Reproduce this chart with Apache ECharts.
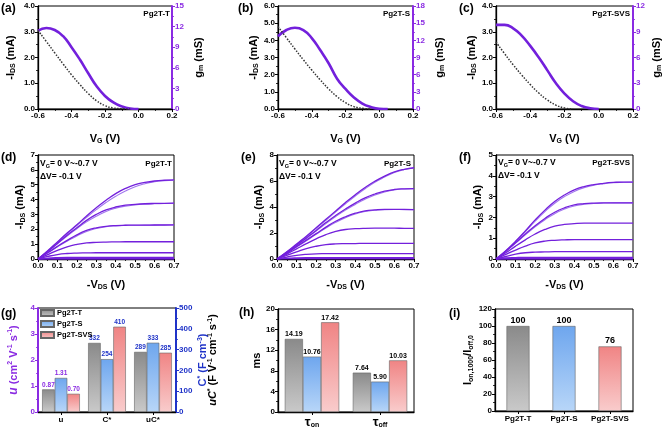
<!DOCTYPE html>
<html><head><meta charset="utf-8">
<script src="https://cdn.jsdelivr.net/npm/echarts@6/dist/echarts.min.js"></script>
<style>html,body{margin:0;padding:0;background:#fff}#c{width:663px;height:427px}</style>
</head><body><div id="c"></div>
<script>
// ---------------- data ----------------
// (a)-(c) transfer curves: -I_DS (mA) and g_m (mS) vs V_G (V)
const vgIdA = [-0.6,-0.55,-0.5,-0.45,-0.4,-0.35,-0.3,-0.25,-0.2,-0.15,-0.1,-0.05];
const idA   = [3.05,2.62,2.18,1.75,1.33,0.95,0.6,0.32,0.13,0.04,0.01,0];
const vgGmA = [-0.6,-0.55,-0.5,-0.45,-0.4,-0.35,-0.3,-0.25,-0.2,-0.15,-0.1,-0.05,0];
const gmA   = [11.4,11.8,11.5,10.6,9.0,7.2,5.2,3.3,1.9,0.95,0.38,0.08,0];

const vgIdB = [-0.6,-0.55,-0.5,-0.45,-0.4,-0.35,-0.3,-0.25,-0.2,-0.15,-0.1,-0.05];
const idB   = [4.8,4.15,3.5,2.87,2.27,1.7,1.17,0.72,0.37,0.14,0.04,0];
const vgGmB = [-0.6,-0.55,-0.5,-0.45,-0.4,-0.35,-0.3,-0.25,-0.2,-0.15,-0.1,-0.05,0,0.05];
const gmB   = [12.7,13.8,14.2,13.8,12.4,10.3,8.0,5.3,3.5,2.0,0.95,0.35,0.05,0];

const vgIdC = [-0.6,-0.55,-0.5,-0.45,-0.4,-0.35,-0.3,-0.25,-0.2,-0.15];
const idC   = [2.6,2.15,1.72,1.32,0.95,0.62,0.35,0.15,0.04,0];
const vgGmC = [-0.6,-0.55,-0.5,-0.45,-0.4,-0.35,-0.3,-0.25,-0.2,-0.15,-0.1,-0.05,0];
const gmC   = [9.8,9.8,9.4,8.55,7.35,6.0,4.5,3.0,1.8,0.9,0.35,0.08,0];

// (d)-(f) output curves: -I_DS (mA) vs -V_DS (V), V_G = -0.7 ... 0 V
const vds = [0,0.05,0.1,0.15,0.2,0.25,0.3,0.35,0.4,0.45,0.5,0.55,0.6,0.65,0.7];
const outD1  = [0,0.55,1.15,1.75,2.3,2.9,3.45,3.95,4.4,4.75,5.0,5.15,5.25,5.3,5.32];
const outD1r = [0,0.55,1.12,1.7,2.25,2.8,3.32,3.8,4.22,4.58,4.87,5.07,5.2,5.27,5.3];
const outD2  = [0,0.5,1.05,1.6,2.1,2.6,3.0,3.3,3.5,3.62,3.68,3.72,3.74,3.75,3.76];
const outD2r = [0,0.5,1.02,1.55,2.04,2.5,2.88,3.2,3.42,3.56,3.64,3.69,3.72,3.74,3.75];
const outD3  = [0,0.42,0.85,1.25,1.62,1.92,2.1,2.2,2.25,2.27,2.28,2.28,2.29,2.29,2.3];
const outD3r = [0,0.4,0.82,1.2,1.55,1.85,2.05,2.17,2.23,2.26,2.27,2.28,2.28,2.29,2.29];
const outD4  = [0,0.3,0.58,0.82,0.98,1.08,1.12,1.14,1.15,1.16,1.16,1.16,1.16,1.16,1.16];
const outD5  = [0,0.17,0.3,0.37,0.4,0.41,0.42,0.42,0.42,0.42,0.42,0.42,0.42,0.42,0.42];
const outD6  = [0,0.06,0.09,0.1,0.1,0.1,0.1,0.1,0.1,0.1,0.1,0.1,0.1,0.1,0.1];
const outD7  = [0,0.02,0.03,0.03,0.03,0.03,0.03,0.03,0.03,0.03,0.03,0.03,0.03,0.03,0.03];
const outD8  = [0,0,0,0,0,0,0,0,0,0,0,0,0,0,0];

const outE1  = [0,0.55,1.15,1.75,2.4,3.05,3.7,4.35,4.95,5.5,5.98,6.38,6.7,6.9,7.02];
const outE1r = [0,0.54,1.12,1.72,2.35,2.98,3.62,4.25,4.85,5.4,5.9,6.3,6.65,6.88,7.0];
const outE2  = [0,0.5,1.05,1.62,2.2,2.8,3.35,3.85,4.3,4.7,5.0,5.22,5.35,5.4,5.42];
const outE2r = [0,0.5,1.03,1.58,2.15,2.72,3.26,3.76,4.2,4.6,4.92,5.16,5.32,5.39,5.41];
const outE3  = [0,0.45,0.95,1.45,1.95,2.45,2.9,3.25,3.52,3.7,3.78,3.82,3.82,3.81,3.8];
const outE3r = [0,0.44,0.92,1.4,1.9,2.38,2.82,3.18,3.46,3.65,3.75,3.8,3.81,3.8,3.8];
const outE4  = [0,0.38,0.78,1.18,1.55,1.88,2.12,2.27,2.33,2.36,2.37,2.37,2.37,2.36,2.36];
const outE5  = [0,0.28,0.55,0.8,0.98,1.1,1.16,1.18,1.19,1.2,1.2,1.2,1.2,1.2,1.2];
const outE6  = [0,0.15,0.28,0.36,0.4,0.41,0.42,0.42,0.42,0.42,0.42,0.42,0.42,0.42,0.42];
const outE7  = [0,0.06,0.09,0.1,0.1,0.1,0.1,0.1,0.1,0.1,0.1,0.1,0.1,0.1,0.1];
const outE8  = [0,0.02,0.02,0.02,0.02,0.02,0.02,0.02,0.02,0.02,0.02,0.02,0.02,0.02,0.02];

const outF1  = [0,0.4,0.85,1.35,1.88,2.35,2.76,3.08,3.32,3.48,3.58,3.64,3.68,3.7,3.7];
const outF1r = [0,0.39,0.83,1.31,1.82,2.28,2.68,3.0,3.25,3.43,3.55,3.62,3.67,3.69,3.7];
const outF2  = [0,0.37,0.78,1.2,1.6,1.95,2.25,2.46,2.6,2.66,2.69,2.7,2.7,2.7,2.7];
const outF2r = [0,0.36,0.76,1.16,1.55,1.89,2.18,2.4,2.55,2.63,2.67,2.69,2.7,2.7,2.7];
const outF3  = [0,0.3,0.62,0.92,1.2,1.42,1.58,1.66,1.7,1.72,1.72,1.72,1.72,1.72,1.72];
const outF4  = [0,0.22,0.43,0.62,0.77,0.86,0.9,0.92,0.93,0.93,0.93,0.93,0.93,0.93,0.93];
const outF5  = [0,0.12,0.23,0.3,0.33,0.34,0.35,0.35,0.35,0.35,0.35,0.35,0.35,0.35,0.35];
const outF6  = [0,0.05,0.07,0.08,0.08,0.08,0.08,0.08,0.08,0.08,0.08,0.08,0.08,0.08,0.08];
const outF7  = [0,0.02,0.02,0.02,0.02,0.02,0.02,0.02,0.02,0.02,0.02,0.02,0.02,0.02,0.02];
const outF8  = [0,0,0,0,0,0,0,0,0,0,0,0,0,0,0];

// (g) bars
const devices = ['Pg2T-T','Pg2T-S','Pg2T-SVS'];
const gCategories = ['u','C*','uC*'];
const mobility = [0.87, 1.31, 0.70];      // left axis
const capacitance = [332, 254, 410];      // right axis
const muC = [289, 333, 285];              // right axis
// (h) bars
const tauCategories = ['on','off'];
const tauOn = [14.19, 10.76, 17.42];
const tauOff = [7.64, 5.90, 10.03];
// (i) bars
const ratio = [100, 100, 76];

// ---------------- styles ----------------
const F = 'Liberation Sans';
const PURPLE = '#8a2be2';
const CURVE = '#7320dc';
const CURVE2 = '#a276ee';
const BLUE = '#1f33c8';
const grad = (a, b) => ({type:'linear', x:0, y:0, x2:0, y2:1, colorStops:[{offset:0, color:a},{offset:1, color:b}]});
const barFills = [grad('#8a8a8a','#c9c9c9'), grad('#6ea6ee','#b8d6f8'), grad('#f08484','#f9cccc')];

const sub = (extra) => Object.assign({fontFamily:F, fontWeight:'bold', fontSize:7, color:'#000', padding:[6,0,0,0]}, extra||{});
const sup = (extra) => Object.assign({fontFamily:F, fontWeight:'bold', fontSize:7, color:'#000', padding:[0,0,6,0]}, extra||{});
const big = (extra) => Object.assign({fontFamily:F, fontWeight:'bold', fontSize:11, color:'#000'}, extra||{});

const pairs = (xs, ys) => xs.map((x, i) => [x, ys[i]]);

const grids = [
  {left:38,  top:6,   width:134, height:103},
  {left:278, top:6,   width:135, height:103},
  {left:496, top:6,   width:137, height:103},
  {left:38,  top:155, width:136, height:104},
  {left:277, top:155, width:137, height:104},
  {left:496, top:155, width:137, height:104},
  {left:38,  top:308, width:138, height:104},
  {left:278, top:309, width:136, height:103},
  {left:495, top:309, width:138, height:102}
].map(g => Object.assign({show:true, borderColor:'#000', borderWidth:1, backgroundColor:'transparent', containLabel:false, outerBoundsMode:'none'}, g));

function valueAxis(o) {
  const color = o.color || '#000';
  return {
    type:'value', gridIndex:o.grid, min:o.min, max:o.max, interval:o.interval,
    position:o.position, name:o.name || '', nameLocation:'middle', nameGap:o.nameGap || 20,
    nameRotate:o.nameRotate, nameTextStyle:{rich:o.rich || {}},
    axisLine:{show:true, onZero:false, lineStyle:{color, width:o.lineWidth || 1.3}},
    axisTick:{show:true, inside:false, length:3, lineStyle:{color, width:1}},
    minorTick:{show:true, splitNumber:2, length:2, lineStyle:{color, width:0.8}},
    splitLine:{show:false}, minorSplitLine:{show:false},
    axisLabel:{show:true, margin:3, fontFamily:F, fontWeight:'bold', fontSize:8, color,
      formatter:(v) => o.dec != null ? Number(v).toFixed(o.dec) : String(Math.round(v))}
  };
}
function catAxis(o) {
  return {
    type:'category', gridIndex:o.grid, data:o.data,
    axisLine:{show:true, lineStyle:{color:'#000', width:1.3}},
    axisTick:{show:true, alignWithLabel:true, length:3, lineStyle:{color:'#000'}},
    splitLine:{show:false},
    axisLabel:Object.assign({margin:4, fontFamily:F, fontWeight:'bold', fontSize:8, color:'#000', interval:0}, o.label || {})
  };
}

const richIds = {t:big(), s:sub()};
const xAxis = [
  valueAxis({grid:0, min:-0.6, max:0.2, interval:0.2, dec:1, name:'{t|V}{s|G}{t| (V)}', nameGap:23, rich:richIds}),
  valueAxis({grid:1, min:-0.6, max:0.2, interval:0.2, dec:1, name:'{t|V}{s|G}{t| (V)}', nameGap:23, rich:richIds}),
  valueAxis({grid:2, min:-0.6, max:0.2, interval:0.2, dec:1, name:'{t|V}{s|G}{t| (V)}', nameGap:23, rich:richIds}),
  valueAxis({grid:3, min:0, max:0.7, interval:0.1, dec:1, name:'{t|-V}{s|DS}{t| (V)}', nameGap:19, rich:richIds}),
  valueAxis({grid:4, min:0, max:0.7, interval:0.1, dec:1, name:'{t|-V}{s|DS}{t| (V)}', nameGap:19, rich:richIds}),
  valueAxis({grid:5, min:0, max:0.7, interval:0.1, dec:1, name:'{t|-V}{s|DS}{t| (V)}', nameGap:19, rich:richIds}),
  catAxis({grid:6, data:gCategories}),
  catAxis({grid:7, data:tauCategories, label:{fontSize:12, formatter:(v) => '{t|τ}{s|' + v + '}', rich:{t:{fontFamily:F, fontWeight:'bold', fontSize:13, color:'#000'}, s:sub({fontSize:7})}}}),
  catAxis({grid:8, data:devices})
];

const idName = '{t|-I}{s|DS}{t| (mA)}';
const gmName = '{t|g}{s|m}{t| (mS)}';
const yAxis = [
  valueAxis({grid:0, min:0, max:4, interval:1, dec:1, name:idName, nameGap:21, nameRotate:90, rich:richIds}),
  valueAxis({grid:0, min:0, max:15, interval:3, position:'right', color:PURPLE, lineWidth:2, name:gmName, nameGap:20, nameRotate:90, rich:richIds}),
  valueAxis({grid:1, min:0, max:6, interval:1, dec:1, name:idName, nameGap:17, nameRotate:90, rich:richIds}),
  valueAxis({grid:1, min:0, max:18, interval:3, position:'right', color:PURPLE, lineWidth:2, name:gmName, nameGap:20, nameRotate:90, rich:richIds}),
  valueAxis({grid:2, min:0, max:4, interval:1, dec:1, name:idName, nameGap:17, nameRotate:90, rich:richIds}),
  valueAxis({grid:2, min:0, max:12, interval:3, position:'right', color:PURPLE, lineWidth:2, name:gmName, nameGap:17, nameRotate:90, rich:richIds}),
  valueAxis({grid:3, min:0, max:7, interval:1, name:idName, nameGap:10, nameRotate:90, rich:richIds}),
  valueAxis({grid:4, min:0, max:8, interval:2, name:idName, nameGap:9, nameRotate:90, rich:richIds}),
  valueAxis({grid:5, min:0, max:5, interval:1, name:idName, nameGap:9, nameRotate:90, rich:richIds}),
  valueAxis({grid:6, min:0, max:4, interval:1, color:PURPLE, lineWidth:2, name:'{i|u}{t| (cm}{p|2}{t| V}{p|-1}{t| s}{p|-1}{t|)}', nameGap:18, nameRotate:90,
    rich:{i:big({color:PURPLE, fontStyle:'italic', fontSize:12}), t:big({color:PURPLE}), p:sup({color:PURPLE})}}),
  valueAxis({grid:6, min:0, max:500, interval:100, position:'right', color:BLUE, lineWidth:2, name:'{t|C}{p|*}{t| (F cm}{p|-3}{t|)}', nameGap:14, nameRotate:90,
    rich:{t:big({color:BLUE}), p:sup({color:BLUE})}}),
  valueAxis({grid:7, min:0, max:20, interval:4, name:'{t|ms}', nameGap:15, nameRotate:90, rich:richIds}),
  valueAxis({grid:8, min:0, max:120, interval:20, name:'{t|I}{s|on,1000}{t|/I}{s|off,0}', nameGap:19, nameRotate:90, rich:richIds})
];

const series = [];
function lineS(xi, yi, data, color, width, dotted) {
  series.push({type:'line', xAxisIndex:xi, yAxisIndex:yi, data, showSymbol:false, smooth:0.5,
    lineStyle:{color, width, type: dotted ? 'dotted' : 'solid'}, silent:true, z: dotted ? 3 : 2});
}
// transfer curves
lineS(0, 0, pairs(vgIdA, idA), '#333', 1.5, true);
lineS(0, 1, pairs(vgGmA, gmA), CURVE, 2.6);
lineS(1, 2, pairs(vgIdB, idB), '#333', 1.5, true);
lineS(1, 3, pairs(vgGmB, gmB), CURVE, 2.6);
lineS(2, 4, pairs(vgIdC, idC), '#333', 1.5, true);
lineS(2, 5, pairs(vgGmC, gmC), CURVE, 2.6);
// output curves
const outPanels = [
  {x:3, y:6, fwd:[outD1,outD2,outD3,outD4,outD5,outD6,outD7,outD8], rev:[outD1r,outD2r,outD3r]},
  {x:4, y:7, fwd:[outE1,outE2,outE3,outE4,outE5,outE6,outE7,outE8], rev:[outE1r,outE2r,outE3r]},
  {x:5, y:8, fwd:[outF1,outF2,outF3,outF4,outF5,outF6,outF7,outF8], rev:[outF1r,outF2r]}
];
outPanels.forEach(p => {
  p.rev.forEach(arr => lineS(p.x, p.y, pairs(vds, arr), CURVE2, 1.1));
  p.fwd.forEach(arr => lineS(p.x, p.y, pairs(vds, arr), CURVE, 1.3));
});

// (g) grouped bars on two value axes (same stack keeps one slot per device)
devices.forEach((name, i) => {
  const base = {type:'bar', name, xAxisIndex:6, stack:'g' + i, barGap:'0%', barCategoryGap:'18%',
    itemStyle:{color:barFills[i], borderColor:'#666', borderWidth:0.6}};
  series.push(Object.assign({}, base, {yAxisIndex:9, data:[mobility[i], '-', '-'],
    label:{show:true, position:'top', distance:1, fontFamily:F, fontWeight:'bold', fontSize:6.5, color:PURPLE,
      formatter:(p) => Number(p.value).toFixed(2)}}));
  series.push(Object.assign({}, base, {yAxisIndex:10, data:['-', capacitance[i], muC[i]],
    label:{show:true, position:'top', distance:1, fontFamily:F, fontWeight:'bold', fontSize:6.5, color:BLUE,
      formatter:(p) => String(p.value)}}));
});
// (h)
devices.forEach((name, i) => {
  series.push({type:'bar', name, xAxisIndex:7, yAxisIndex:11, data:[tauOn[i], tauOff[i]], barGap:'0%', barCategoryGap:'20%',
    itemStyle:{color:barFills[i], borderColor:'#666', borderWidth:0.6},
    label:{show:true, position:'top', distance:1, fontFamily:F, fontWeight:'bold', fontSize:7, color:'#000',
      formatter:(p) => Number(p.value).toFixed(2)}});
});
// (i)
series.push({type:'bar', name:'ratio', xAxisIndex:8, yAxisIndex:12, barWidth:'50%',
  data: ratio.map((v, i) => ({value:v, itemStyle:{color:barFills[i], borderColor:'#666', borderWidth:0.6}})),
  label:{show:true, position:'top', distance:1, fontFamily:F, fontWeight:'bold', fontSize:9, color:'#000'}});

// text annotations
const txt = (x, y, text, o) => ({type:'text', x, y, silent:true, style:Object.assign({text, fill:'#000',
  font:'bold 8px "Liberation Sans"', align:'left', verticalAlign:'middle'}, o || {})});
const vgRich = {a:{fontFamily:F, fontWeight:'bold', fontSize:8.5, color:'#000'}, s:sub({fontSize:5.5, padding:[4,0,0,0]})};
const graphic = [
  txt(1, 3, '(a)', {font:'bold 12px "Liberation Sans"', verticalAlign:'top'}),
  txt(238, 3, '(b)', {font:'bold 12px "Liberation Sans"', verticalAlign:'top'}),
  txt(459, 3, '(c)', {font:'bold 12px "Liberation Sans"', verticalAlign:'top'}),
  txt(1, 152, '(d)', {font:'bold 12px "Liberation Sans"', verticalAlign:'top'}),
  txt(241, 152, '(e)', {font:'bold 12px "Liberation Sans"', verticalAlign:'top'}),
  txt(459, 152, '(f)', {font:'bold 12px "Liberation Sans"', verticalAlign:'top'}),
  txt(1, 308, '(g)', {font:'bold 12px "Liberation Sans"', verticalAlign:'top'}),
  txt(239, 307, '(h)', {font:'bold 12px "Liberation Sans"', verticalAlign:'top'}),
  txt(449, 308, '(i)', {font:'bold 12px "Liberation Sans"', verticalAlign:'top'}),
  txt(170, 14, 'Pg2T-T', {align:'right'}),
  txt(410, 14, 'Pg2T-S', {align:'right'}),
  txt(630, 14, 'Pg2T-SVS', {align:'right'}),
  txt(172, 164, 'Pg2T-T', {align:'right'}),
  txt(411, 164, 'Pg2T-S', {align:'right'}),
  txt(630, 163, 'Pg2T-SVS', {align:'right'}),
  txt(40, 164, '{a|V}{s|G}{a|= 0 V~-0.7 V}', {rich:vgRich}),
  txt(40, 177, 'ΔV= -0.1 V', {font:'bold 8.5px "Liberation Sans"'}),
  txt(279, 164, '{a|V}{s|G}{a|= 0 V~-0.7 V}', {rich:vgRich}),
  txt(279, 177, 'ΔV= -0.1 V', {font:'bold 8.5px "Liberation Sans"'}),
  txt(498, 163, '{a|V}{s|G}{a|= 0 V~-0.7 V}', {rich:vgRich}),
  txt(498, 176, 'ΔV= -0.1 V', {font:'bold 8.5px "Liberation Sans"'}),
  {type:'text', x:213, y:360, rotation:Math.PI / 2, silent:true,
    style:{text:'{i|uC}{p|*}{t| (F V}{p|-1}{t| cm}{p|-1}{t| s}{p|-1}{t|)}', align:'center', verticalAlign:'middle',
      rich:{i:big({color:BLUE, fontStyle:'italic'}), t:big({color:BLUE}), p:sup({color:BLUE})}}}
];

const chart = echarts.init(document.getElementById('c'), null, {renderer:'canvas', width:663, height:427});
chart.setOption({
  animation:false,
  backgroundColor:'#fff',
  grid:grids, xAxis, yAxis, series, graphic,
  legend:{data:devices, orient:'vertical', left:40, top:309, itemWidth:13, itemHeight:6, itemGap:3, padding:0,
    selectedMode:false, icon:'rect',
    textStyle:{fontFamily:F, fontWeight:'bold', fontSize:7.5, color:'#000', padding:[0,0,0,-2]}}
});
</script>
</body></html>
